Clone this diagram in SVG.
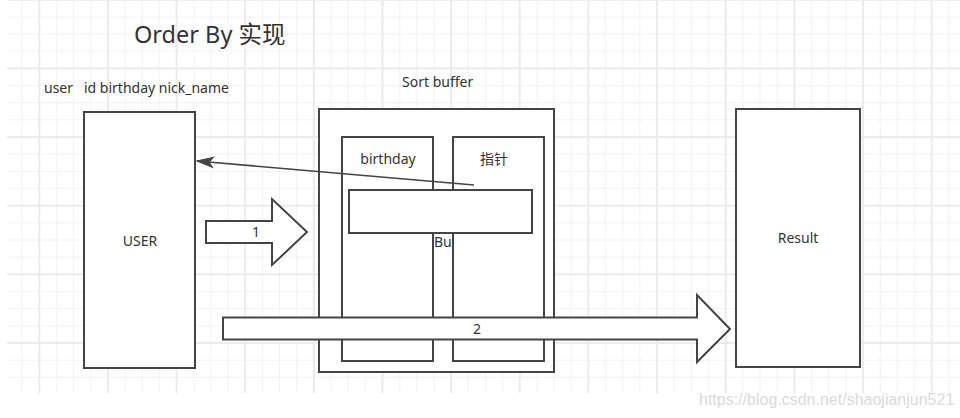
<svg xmlns="http://www.w3.org/2000/svg" width="960" height="418" viewBox="0 0 960 418">
<style>
.box{fill:#ffffff;stroke:#444444;stroke-width:2}
.lbl{font-family:"Noto Sans","Noto Sans CJK SC",sans-serif;font-size:14px;fill:#333333}
.title{font-family:"Noto Sans","Noto Sans CJK SC",sans-serif;font-size:23.5px;fill:#333333}
.conn{fill:none;stroke:#444444;stroke-width:1.6}
.barrow{fill:#ffffff;stroke:#444444;stroke-width:2;stroke-linejoin:miter}
.mark{font-family:"Liberation Sans",Arial,sans-serif;font-size:16px;fill:#dadada}
</style>
<defs>
<pattern id="grid" patternUnits="userSpaceOnUse" x="38.3" y="67.4" width="68.64" height="68.64">
<path d="M18.16,0V68.64M35.32,0V68.64M52.48,0V68.64M0,18.16H68.64M0,35.32H68.64M0,52.48H68.64" stroke="#f1f1f1" stroke-width="1" fill="none"/>
<path d="M1,0V68.64M0,1H68.64" stroke="#ebebeb" stroke-width="2" fill="none"/>
</pattern>
<marker id="ah" markerUnits="userSpaceOnUse" markerWidth="18" markerHeight="12" refX="16" refY="5" orient="auto" overflow="visible">
<path d="M16,5L0,0L4,5L0,10Z" fill="#444444" stroke="#444444" stroke-width="1"/>
</marker>
</defs>
<rect x="0" y="0" width="960" height="418" fill="#ffffff"/>
<rect x="7" y="0" width="953" height="393" fill="url(#grid)"/>

<text class="title" x="134" y="43">Order By 实现</text>
<text class="lbl" x="44" y="93" xml:space="preserve" style="white-space:pre">user   id birthday nick_name</text>
<text class="lbl" x="402" y="87">Sort buffer</text>

<g id="user">
<rect class="box" x="84" y="112" width="111" height="256"/>
<text class="lbl" x="140" y="246" text-anchor="middle">USER</text>
</g>

<g id="sort-buffer">
<rect class="box" x="319" y="109" width="235" height="263"/>
</g>
<g id="birthday-col">
<rect class="box" x="342" y="137" width="91" height="224"/>
<text class="lbl" x="388" y="164" text-anchor="middle">birthday</text>
</g>
<g id="pointer-col">
<text class="lbl" x="434" y="247">Bu</text>
<rect class="box" x="453" y="137" width="91" height="224"/>
<text class="lbl" x="494" y="164" text-anchor="middle">指针</text>
</g>
<g id="buffer-bar">
<rect class="box" x="349" y="190" width="183" height="43"/>
</g>

<g id="result">
<rect class="box" x="736" y="109" width="124" height="258"/>
<text class="lbl" x="798" y="243" text-anchor="middle">Result</text>
</g>

<g id="connectors">
<line class="conn" x1="474" y1="185" x2="197" y2="161" marker-end="url(#ah)"/>
<g id="arrow1">
<polygon class="barrow" points="206,221 272,221 272,199 307,232 272,265 272,243 206,243"/>
<text class="lbl" x="256" y="237" text-anchor="middle">1</text>
</g>
<g id="arrow2">
<polygon class="barrow" points="223,317.5 697,317.5 697,295 730,329 697,362 697,339.5 223,339.5"/>
<text class="lbl" x="477" y="334" text-anchor="middle">2</text>
</g>
</g>

<text class="mark" x="699" y="405">https://blog.csdn.net/shaojianjun521</text>
</svg>
